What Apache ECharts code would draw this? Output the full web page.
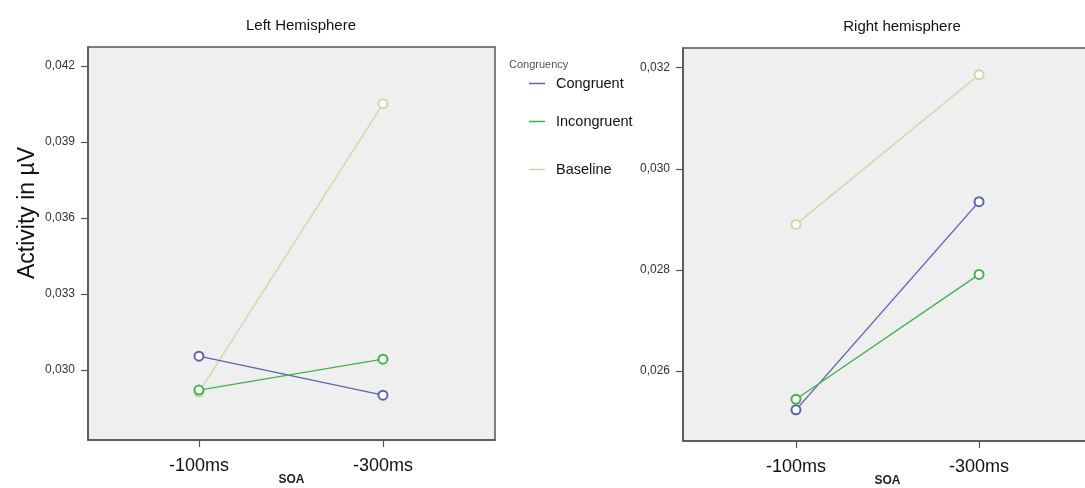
<!DOCTYPE html>
<html lang="en" style="height: 100%">
  <head>
    <meta charset="utf-8" />
  </head>
  <body style="height: 100%; margin: 0; background: #fff">
    <div id="container" style="width: 1085px; height: 488px"></div>

    <script
      type="text/javascript"
      src="https://cdn.jsdelivr.net/npm/echarts@6/dist/echarts.min.js"
    ></script>

    <script type="text/javascript">
      var soa = ["-100ms", "-300ms"];
      var groups = ["Congruent", "Incongruent", "Baseline"];
      var colors = ["#5c63b6", "#3db54e", "#d5d4a4"];

      // left hemisphere, one value per SOA
      var leftCongruent = [0.03055, 0.02901];
      var leftIncongruent = [0.02921, 0.03043];
      var leftBaseline = [0.02913, 0.04051];

      // right hemisphere
      var rightCongruent = [0.02523, 0.02935];
      var rightIncongruent = [0.02544, 0.02791];
      var rightBaseline = [0.0289, 0.03186];

      var leftTicks = [0.03, 0.033, 0.036, 0.039, 0.042];
      var rightTicks = [0.026, 0.028, 0.03, 0.032];

      var dom = document.getElementById("container");
      var myChart = echarts.init(dom, null, { renderer: "canvas" });

      var font = "Liberation Sans, Arial, sans-serif";

      function pts(vals) {
        return vals.map(function (v, i) {
          return [i, v];
        });
      }

      function xAxis(idx, min, max) {
        return {
          type: "value",
          gridIndex: idx,
          min: min,
          max: max,
          splitLine: { show: false },
          axisLine: { show: true, onZero: false, lineStyle: { color: "#555", width: 1.5 } },
          axisTick: {
            show: true,
            customValues: [0, 1],
            length: 7,
            lineStyle: { color: "#555", width: 1.2 },
          },
          axisLabel: {
            customValues: [0, 1],
            formatter: function (v) {
              return soa[Math.round(v)];
            },
            color: "#111",
            fontSize: 18,
            fontFamily: font,
            margin: 17,
          },
          name: "SOA",
          nameLocation: "middle",
          nameGap: 34,
          nameMoveOverlap: false,
          nameTextStyle: {
            fontSize: 12,
            fontWeight: "bold",
            color: "#222",
            fontFamily: font,
          },
        };
      }

      function yAxis(idx, min, max, ticks) {
        return {
          type: "value",
          gridIndex: idx,
          min: min,
          max: max,
          splitLine: { show: false },
          axisLine: { show: true, onZero: false, lineStyle: { color: "#555", width: 1.5 } },
          axisTick: {
            show: true,
            customValues: ticks,
            length: 7,
            lineStyle: { color: "#555", width: 1.2 },
          },
          axisLabel: {
            customValues: ticks,
            formatter: function (v) {
              return v.toFixed(3).replace(".", ",");
            },
            color: "#333",
            fontSize: 12,
            fontFamily: font,
            margin: 13,
          },
        };
      }

      function line(name, data, i, g) {
        return {
          name: name,
          type: "line",
          xAxisIndex: g,
          yAxisIndex: g,
          data: pts(data),
          symbol: "emptyCircle",
          symbolSize: 9,
          color: colors[i],
          lineStyle: { width: 1.4, color: colors[i] },
          itemStyle: { color: colors[i], borderWidth: 1 },
          z: i === 2 ? 1 : 3,
        };
      }

      function legend(name, top) {
        return {
          data: [name],
          left: 524,
          top: top,
          icon: "rect",
          itemWidth: 16,
          itemHeight: 1.5,
          textStyle: { fontSize: 14.5, color: "#111", fontFamily: font, padding: [0, 0, 0, 6] },
        };
      }

      var option = {
        animation: false,
        title: [
          {
            text: "Left Hemisphere",
            left: 296,
            top: 13,
            textAlign: "center",
            textStyle: { fontSize: 15, fontWeight: "normal", color: "#111", fontFamily: font },
          },
          {
            text: "Right hemisphere",
            left: 897,
            top: 14,
            textAlign: "center",
            textStyle: { fontSize: 15, fontWeight: "normal", color: "#111", fontFamily: font },
          },
          {
            text: "Congruency",
            left: 504,
            top: 54,
            textStyle: { fontSize: 11, fontWeight: "normal", color: "#555", fontFamily: font },
          },
        ],
        legend: [legend(groups[0], 71), legend(groups[1], 109), legend(groups[2], 157)],
        graphic: [
          {
            type: "text",
            x: 28,
            y: 213,
            rotation: Math.PI / 2,
            style: {
              text: "Activity in \u00b5V",
              fill: "#111",
              font: "23px " + font,
              align: "center",
              verticalAlign: "middle",
            },
          },
        ],
        grid: [
          {
            left: 88,
            top: 47,
            width: 407,
            height: 393,
            outerBoundsMode: "none",
            show: true,
            backgroundColor: "#efefef",
            borderColor: "#555",
            borderWidth: 1.5,
          },
          {
            left: 683,
            top: 48,
            width: 409,
            height: 393,
            outerBoundsMode: "none",
            show: true,
            backgroundColor: "#efefef",
            borderColor: "#555",
            borderWidth: 1.5,
          },
        ],
        xAxis: [xAxis(0, -0.603, 1.609), xAxis(1, -0.617, 1.617)],
        yAxis: [yAxis(0, 0.02724, 0.04275, leftTicks), yAxis(1, 0.024614, 0.03239, rightTicks)],
        series: [
          line(groups[0], leftCongruent, 0, 0),
          line(groups[1], leftIncongruent, 1, 0),
          line(groups[2], leftBaseline, 2, 0),
          line(groups[0], rightCongruent, 0, 1),
          line(groups[1], rightIncongruent, 1, 1),
          line(groups[2], rightBaseline, 2, 1),
        ],
      };

      myChart.setOption(option);
    </script>
  </body>
</html>
